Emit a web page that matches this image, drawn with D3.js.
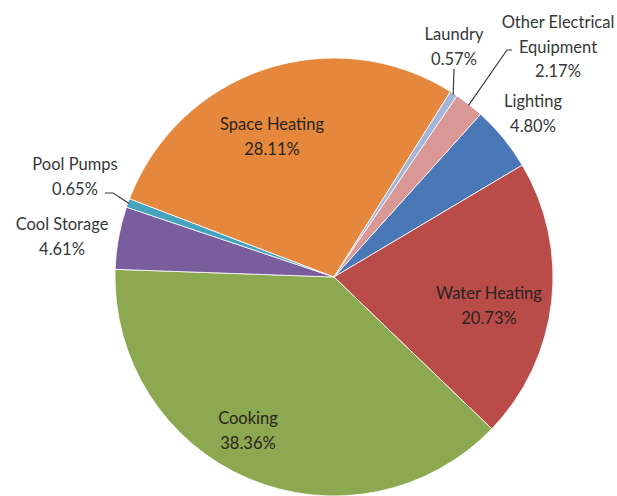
<!DOCTYPE html>
<html>
<head>
<meta charset="utf-8">
<script src="https://cdn.jsdelivr.net/npm/d3@7"></script>
<style>
  body { margin: 0; background: #fff; }
  text { font-family: Lato, "Open Sans", sans-serif; font-size: 16.5px; }
</style>
</head>
<body>
<div id="chart-area"></div>
<script>
// end uses, clockwise starting at the lighting slice
const categories = ["Lighting", "Water Heating", "Cooking", "Cool Storage",
    "Pool Pumps", "Space Heating", "Laundry", "Other Electrical Equipment"]
const shares = [4.80, 20.73, 38.36, 4.61, 0.65, 28.11, 0.57, 2.17]
const labelText = ["4.80%", "20.73%", "38.36%", "4.61%", "0.65%", "28.11%", "0.57%", "2.17%"]

const WIDTH = 617
const HEIGHT = 496
const CX = 334, CY = 277, R = 219

const colors = ["#4a78b6", "#b94b49", "#8ca851", "#7a5d9c", "#44a3bf",
    "#e5883d", "#a3b5d8", "#d99795"]

// label layout: position of the first line, extra lines, leader bend points
const labelLayout = {
    "Lighting": { x: 533, y: 107, lines: ["Lighting"] },
    "Water Heating": { x: 489, y: 299, lines: ["Water Heating"], inside: true },
    "Cooking": { x: 248, y: 424, lines: ["Cooking"], inside: true },
    "Cool Storage": { x: 62, y: 230, lines: ["Cool Storage"] },
    "Pool Pumps": { x: 75, y: 170, lines: ["Pool Pumps"], leader: [[105, 193], [113, 193]] },
    "Space Heating": { x: 272, y: 130, lines: ["Space Heating"], inside: true },
    "Laundry": { x: 454, y: 40, lines: ["Laundry"], leader: [[454, 69]] },
    "Other Electrical Equipment": { x: 558, y: 28, lines: ["Other Electrical", "Equipment"], leader: [[512, 50], [507, 50]] }
}

const svg = d3.select("#chart-area")
    .append("svg")
    .attr("width", WIDTH)
    .attr("height", HEIGHT)

const g = svg.append("g")
    .attr("transform", `translate(${CX}, ${CY})`)

const start = 42 * Math.PI / 180
const pie = d3.pie()
    .sort(null)
    .value(d => d)
    .startAngle(start)
    .endAngle(start + 2 * Math.PI)

const arcs = pie(shares)
const arc = d3.arc().innerRadius(0).outerRadius(R)
const edge = d3.arc().innerRadius(R - 1).outerRadius(R - 1)

g.selectAll("path.slice")
    .data(arcs)
    .enter()
    .append("path")
    .attr("class", "slice")
    .attr("d", arc)
    .attr("fill", (d, i) => colors[i])
    .attr("stroke", "#fff")
    .attr("stroke-width", 0.8)

// leader lines
arcs.forEach((d, i) => {
    const lay = labelLayout[categories[i]]
    if (!lay.leader) return
    const e = edge.centroid(d)
    const pts = lay.leader.concat([[e[0] + CX, e[1] + CY]])
    svg.append("path")
        .attr("d", d3.line()(pts))
        .attr("fill", "none")
        .attr("stroke", "#3a3a3a")
        .attr("stroke-width", 1.2)
})

// labels
arcs.forEach((d, i) => {
    const lay = labelLayout[categories[i]]
    const lines = lay.lines.concat([labelText[i]])
    const t = svg.append("text")
        .attr("text-anchor", "middle")
        .attr("fill", lay.inside ? "#2a2420" : "#383838")
    lines.forEach((s, k) => {
        t.append("tspan")
            .attr("x", lay.x)
            .attr("y", lay.y + k * 24.5)
            .text(s)
    })
})
</script>
</body>
</html>
